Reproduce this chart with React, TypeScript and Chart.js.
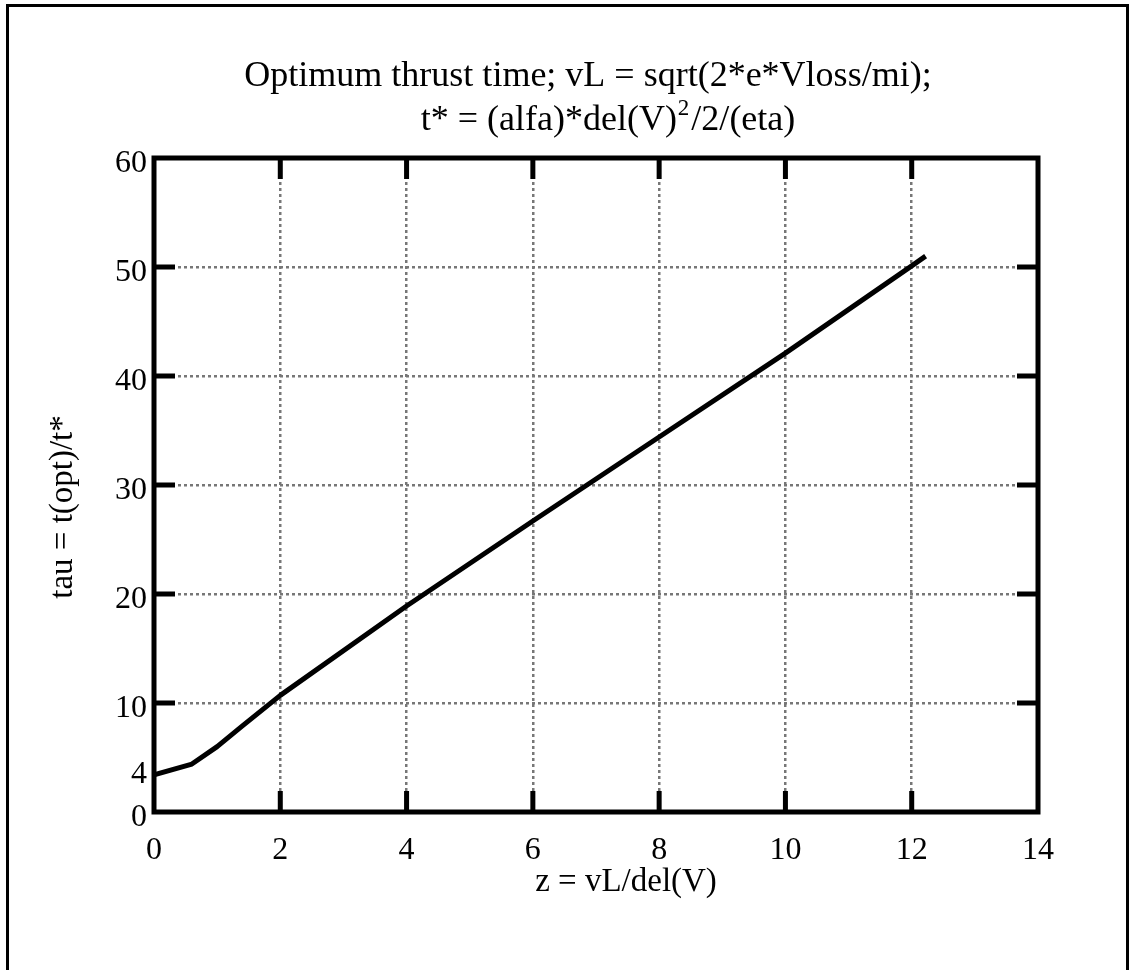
import { useEffect, useRef } from "react";
import { Chart, registerables } from "chart.js";

Chart.register(...registerables);

// ---- data ----
const zValues = [0, 0.6, 1, 1.4, 2, 4, 6, 8, 10, 12, 12.22];
const tauValues = [3.4, 4.4, 6.0, 7.9, 10.7, 18.9, 26.7, 34.4, 42.1, 50.1, 51.0];
const yTickValues = [0, 4, 10, 20, 30, 40, 50, 60];
const yGridValues = [10, 20, 30, 40, 50];
const xGridValues = [2, 4, 6, 8, 10, 12];
const titleLine1 = "Optimum thrust time; vL = sqrt(2*e*Vloss/mi);";
const titleLine2Parts = ["t* = (alfa)*del(V)", "2", "/2/(eta)"];
const xTitle = "z = vL/del(V)";
const yTitle = "tau = t(opt)/t*";

const FONT = "'Liberation Serif', 'Times New Roman', serif";
const GRID_COLOR = "#777777";

const framePlugin = {
  id: "framePlugin",
  beforeDraw(chart: any) {
    const ctx = chart.ctx;
    ctx.save();
    ctx.fillStyle = "#ffffff";
    ctx.fillRect(0, 0, chart.width, chart.height);
    // outer picture frame (left, top, right)
    ctx.strokeStyle = "#000";
    ctx.lineWidth = 3;
    ctx.beginPath();
    ctx.moveTo(7.5, chart.height + 2);
    ctx.lineTo(7.5, 5.5);
    ctx.lineTo(1127.5, 5.5);
    ctx.lineTo(1127.5, chart.height + 2);
    ctx.stroke();

    // title
    ctx.fillStyle = "#000";
    ctx.font = `36px ${FONT}`;
    ctx.textAlign = "center";
    ctx.textBaseline = "alphabetic";
    ctx.fillText(titleLine1, 588, 86);

    ctx.textAlign = "left";
    const w1 = ctx.measureText(titleLine2Parts[0]).width;
    const w3 = ctx.measureText(titleLine2Parts[2]).width;
    ctx.font = `23px ${FONT}`;
    const w2 = ctx.measureText(titleLine2Parts[1]).width;
    let x = 608 - (w1 + w2 + w3 + 3) / 2;
    const base = 130;
    ctx.font = `36px ${FONT}`;
    ctx.fillText(titleLine2Parts[0], x, base);
    x += w1;
    ctx.font = `23px ${FONT}`;
    ctx.fillText(titleLine2Parts[1], x + 1, base - 15);
    x += w2 + 3;
    ctx.font = `36px ${FONT}`;
    ctx.fillText(titleLine2Parts[2], x, base);

    // axis titles
    ctx.font = `33px ${FONT}`;
    ctx.textAlign = "center";
    ctx.textBaseline = "middle";
    ctx.fillText(xTitle, 626, 882);
    ctx.save();
    ctx.translate(63, 507);
    ctx.rotate(-Math.PI / 2);
    ctx.fillText(yTitle, 0, 0);
    ctx.restore();
    ctx.restore();
  },
  afterDraw(chart: any) {
    const ctx = chart.ctx;
    const { left, right, top, bottom } = chart.chartArea;
    const xs = chart.scales.x;
    const ys = chart.scales.y;
    ctx.save();
    ctx.strokeStyle = "#000";
    ctx.lineWidth = 5;
    ctx.lineCap = "butt";
    const len = 21;
    ctx.beginPath();
    for (const v of xGridValues) {
      const px = xs.getPixelForValue(v);
      ctx.moveTo(px, bottom);
      ctx.lineTo(px, bottom - len);
      ctx.moveTo(px, top);
      ctx.lineTo(px, top + len);
    }
    for (const v of yGridValues) {
      const py = ys.getPixelForValue(v);
      ctx.moveTo(left, py);
      ctx.lineTo(left + len, py);
      ctx.moveTo(right, py);
      ctx.lineTo(right - len, py);
    }
    ctx.stroke();
    ctx.lineJoin = "miter";
    ctx.strokeRect(left, top, right - left, bottom - top);
    ctx.restore();
  },
};

export default function App() {
  const ref = useRef<HTMLCanvasElement | null>(null);

  useEffect(() => {
    if (!ref.current) return;
    const chart = new Chart(ref.current, {
      type: "line",
      data: {
        datasets: [
          {
            data: zValues.map((z, i) => ({ x: z, y: tauValues[i] })),
            borderColor: "#000",
            borderWidth: 5,
            pointRadius: 0,
            tension: 0,
            fill: false,
            borderJoinStyle: "round",
          },
        ],
      },
      options: {
        animation: false,
        responsive: false,
        maintainAspectRatio: false,
        layout: { padding: { left: 0, right: 92, top: 158, bottom: 0 } },
        plugins: {
          legend: { display: false },
          title: { display: false },
          tooltip: { enabled: false },
        },
        scales: {
          x: {
            type: "linear",
            min: 0,
            max: 14,
            afterFit(scale: any) {
              scale.height = 158;
            },
            ticks: {
              stepSize: 2,
              color: "#000",
              padding: 23,
              font: { family: FONT, size: 32, lineHeight: 1 },
              maxRotation: 0,
            },
            grid: {
              drawTicks: false,
              lineWidth: 2.5,
              color: (c: any) =>
                xGridValues.includes(c.tick?.value) ? GRID_COLOR : "rgba(0,0,0,0)",
            },
            border: { display: false, dash: [3, 3] },
          },
          y: {
            type: "linear",
            min: 0,
            max: 60,
            afterFit(scale: any) {
              scale.width = 154;
            },
            afterBuildTicks(scale: any) {
              scale.ticks = yTickValues.map((v) => ({ value: v }));
            },
            ticks: {
              color: "#000",
              padding: 7,
              labelOffset: 6,
              font: { family: FONT, size: 32, lineHeight: 1 },
            },
            grid: {
              drawTicks: false,
              lineWidth: 2.5,
              color: (c: any) =>
                yGridValues.includes(c.tick?.value) ? GRID_COLOR : "rgba(0,0,0,0)",
            },
            border: { display: false, dash: [3, 3] },
          },
        },
      },
      plugins: [framePlugin],
    });
    return () => chart.destroy();
  }, []);

  return (
    <div style={{ position: "absolute", left: 0, top: 0, width: 1130, height: 970 }}>
      <canvas ref={ref} width={1130} height={970} style={{ width: 1130, height: 970, display: "block" }} />
    </div>
  );
}
